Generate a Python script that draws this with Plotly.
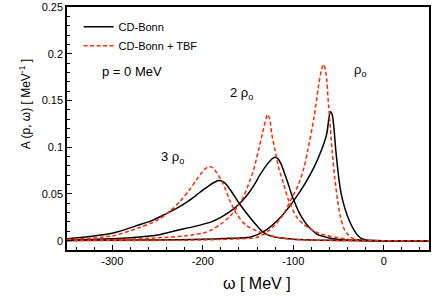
import plotly.graph_objects as go

# ---- data ----
w_bonn_1 = [-350, -300, -250, -200, -170, -148, -131, -114, -100, -87, -77, -69, -63, -61, -59, -57, -55, -53, -51, -49, -47, -44, -40, -36, -32, -28, -24, -18, -10, 0, 50]
a_bonn_1 = [0.0002, 0.0004, 0.0008, 0.0015, 0.0025, 0.0036, 0.0107, 0.025, 0.042, 0.061, 0.0786, 0.0964, 0.1143, 0.128, 0.138, 0.135, 0.12, 0.097, 0.078, 0.062, 0.050, 0.038, 0.026, 0.017, 0.010, 0.005, 0.002, 0.0005, 0.0001, 0, 0]

w_tbf_1 = [-350, -250, -200, -160, -140, -127, -113, -103, -94, -88, -84, -77, -72, -69, -66.5, -64, -61, -59, -57, -54, -51, -48, -44, -40, -35, -28, -20, 0, 50]
a_tbf_1 = [0, 0.0003, 0.0008, 0.002, 0.0036, 0.0107, 0.025, 0.0429, 0.0607, 0.0786, 0.0964, 0.132, 0.166, 0.182, 0.1886, 0.18, 0.145, 0.12, 0.095, 0.066, 0.043, 0.026, 0.013, 0.007, 0.003, 0.001, 0.0002, 0, 0]

w_bonn_2 = [-350, -300, -280, -250, -230, -210, -190, -180, -170, -160, -150, -143, -137, -131, -126, -122, -119, -116, -113, -110, -106, -102, -98, -94, -90, -85, -80, -74, -66, -59, -48, -30, 0, 50]
a_bonn_2 = [0.0005, 0.002, 0.003, 0.006, 0.0107, 0.015, 0.0204, 0.025, 0.031, 0.039, 0.050, 0.060, 0.070, 0.079, 0.085, 0.0885, 0.0893, 0.0865, 0.081, 0.073, 0.062, 0.050, 0.040, 0.031, 0.024, 0.017, 0.012, 0.007, 0.0043, 0.0025, 0.001, 0.0003, 0, 0]

w_tbf_2 = [-350, -300, -250, -220, -210, -200, -192, -181, -170, -162, -155, -148, -144, -138.5, -134, -130, -128.5, -126, -123.7, -120, -116.3, -110.7, -105, -96, -88, -81, -72, -62.6, -50, -40, -30, -20, 0, 50]
a_tbf_2 = [0.0003, 0.001, 0.003, 0.005, 0.0064, 0.008, 0.0107, 0.017, 0.026, 0.036, 0.047, 0.064, 0.075, 0.0964, 0.115, 0.131, 0.135, 0.13, 0.114, 0.0964, 0.0786, 0.0607, 0.0429, 0.025, 0.017, 0.0125, 0.008, 0.0054, 0.003, 0.0015, 0.0005, 0.0001, 0, 0]

w_bonn_3 = [-350, -300, -270, -255, -240, -228, -218, -208, -200, -193, -187, -182, -176, -170, -159, -148, -137, -133, -126, -115, -100, -80, -60, -40, 0, 50]
a_bonn_3 = [0.002, 0.008, 0.017, 0.022, 0.029, 0.035, 0.041, 0.048, 0.054, 0.059, 0.0625, 0.0643, 0.062, 0.055, 0.039, 0.025, 0.0125, 0.0089, 0.0054, 0.003, 0.0015, 0.0007, 0.0003, 0.0001, 0, 0]

w_tbf_3 = [-350, -300, -270, -250, -237, -225, -215, -207, -201, -197, -193, -189, -184.8, -177.4, -170, -162.6, -151.5, -136.7, -118, -100, -80, -60, 0, 50]
a_tbf_3 = [0.0015, 0.0050, 0.0140, 0.022, 0.031, 0.042, 0.054, 0.065, 0.073, 0.077, 0.0793, 0.078, 0.073, 0.0607, 0.0429, 0.0286, 0.016, 0.009, 0.0036, 0.0015, 0.0006, 0.0002, 0, 0]

x_tick_vals = [-300, -200, -100, 0]
x_tick_text = ["-300", "-200", "-100", "0"]
y_tick_vals = [0, 0.05, 0.1, 0.15, 0.2, 0.25]
y_tick_text = ["0", "0.05", "0.1", "0.15", "0.2", "0.25"]

BLACK = "#000000"
RED = "#ff2a00"
FONT = "Liberation Sans, Arial, sans-serif"
DASH = "4px,2.5px"

fig = go.Figure()
curves = [
    (w_bonn_1, a_bonn_1, BLACK, "solid", "CD-Bonn", True),
    (w_tbf_1, a_tbf_1, RED, DASH, "CD-Bonn + TBF", True),
    (w_bonn_2, a_bonn_2, BLACK, "solid", "CD-Bonn", False),
    (w_tbf_2, a_tbf_2, RED, DASH, "CD-Bonn + TBF", False),
    (w_bonn_3, a_bonn_3, BLACK, "solid", "CD-Bonn", False),
    (w_tbf_3, a_tbf_3, RED, DASH, "CD-Bonn + TBF", False),
]
for w, a, col, dash, name, show in curves:
    fig.add_trace(go.Scatter(
        x=w, y=a, mode="lines", name=name, showlegend=show,
        line=dict(color=col, width=1.5, dash=dash, shape="spline", smoothing=0.8),
    ))

axis_common = dict(
    showgrid=False, zeroline=False, showline=True, linecolor="black", linewidth=1.5,
    mirror=True, ticks="inside", ticklen=5, tickwidth=1, tickcolor="black",
    tickfont=dict(family=FONT, size=11, color="black"), automargin=False,
)
fig.update_xaxes(
    range=[-350, 50], tickvals=x_tick_vals, ticktext=x_tick_text,
    minor=dict(ticks="inside", ticklen=3, dtick=20, tick0=0, tickcolor="black"),
    **axis_common,
)
fig.update_yaxes(
    range=[-0.01, 0.25], tickvals=y_tick_vals, ticktext=y_tick_text,
    minor=dict(ticks="inside", ticklen=3, dtick=0.01, tick0=0, tickcolor="black"),
    **axis_common,
)

# axis titles
fig.add_annotation(xref="paper", yref="paper", x=0.525, y=-0.136, text="ω [ MeV ]", showarrow=False,
                   xanchor="center", yanchor="middle", font=dict(family=FONT, size=16, color="black"))
fig.add_annotation(xref="paper", yref="paper", x=-0.116, y=0.60, text="A (p, ω) [ MeV<sup>-1</sup> ]", showarrow=False,
                   textangle=-90, xanchor="center", yanchor="middle", font=dict(family=FONT, size=12, color="black"))

ann_font = dict(family=FONT, size=13, color="black")
fig.add_annotation(x=-314, y=0.181, text="p = 0 MeV", showarrow=False, xanchor="left", yanchor="middle", font=ann_font)
fig.add_annotation(x=-35, y=0.182, text="ρ<sub>o</sub>", showarrow=False, xanchor="left", yanchor="middle", font=ann_font)
fig.add_annotation(x=-172, y=0.157, text="2 ρ<sub>o</sub>", showarrow=False, xanchor="left", yanchor="middle", font=ann_font)
fig.add_annotation(x=-248, y=0.089, text="3 ρ<sub>o</sub>", showarrow=False, xanchor="left", yanchor="middle", font=ann_font)

fig.update_layout(
    width=436, height=304,
    margin=dict(l=67, r=7, t=7, b=54),
    paper_bgcolor="white", plot_bgcolor="white",
    legend=dict(x=0.032, y=0.978, xanchor="left", yanchor="top", bgcolor="rgba(0,0,0,0)",
                font=dict(family=FONT, size=11, color="black"), itemwidth=30, tracegroupgap=0),
)
fig.write_html("out.html", config={"displayModeBar": False},
               post_script="document.body.style.margin='0';")
